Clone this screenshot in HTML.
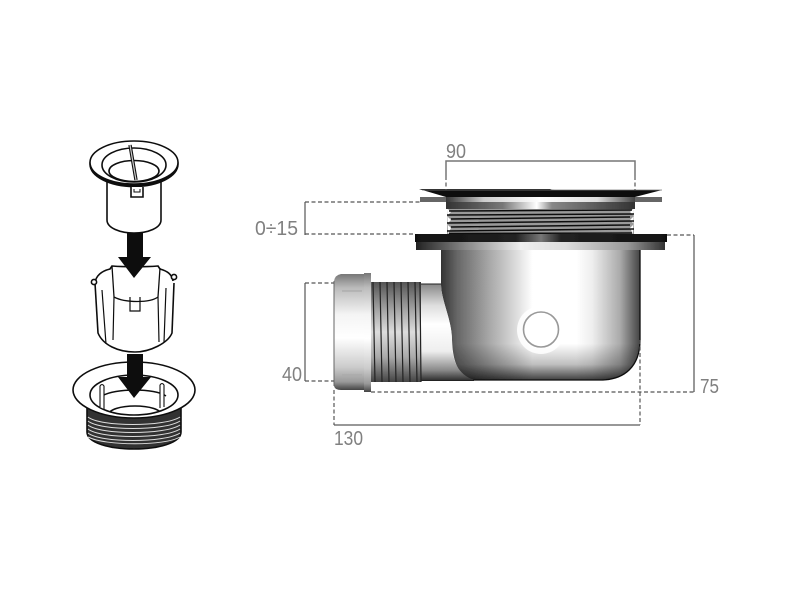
<!DOCTYPE html>
<html><head><meta charset="utf-8"><style>
html,body{margin:0;padding:0;background:#fff}
svg{display:block}
text{font-family:"Liberation Sans",sans-serif;fill:#808080;font-size:20.500px}
</style></head><body>
<svg width="800" height="592" viewBox="0 0 800 592" xmlns="http://www.w3.org/2000/svg">
<defs>
<linearGradient id="body" x1="0" x2="1" y1="0" y2="0">
<stop offset="0" stop-color="#333"/><stop offset=".08" stop-color="#666"/><stop offset=".25" stop-color="#aaa"/><stop offset=".38" stop-color="#ddd"/><stop offset=".46" stop-color="#fff"/><stop offset=".68" stop-color="#fff"/><stop offset=".76" stop-color="#eee"/><stop offset=".9" stop-color="#aaa"/><stop offset="1" stop-color="#444"/>
</linearGradient>
<linearGradient id="bot" x1="0" x2="0" y1="0" y2="1">
<stop offset="0" stop-color="#000" stop-opacity="0"/><stop offset=".72" stop-color="#000" stop-opacity="0"/><stop offset=".88" stop-color="#000" stop-opacity=".25"/><stop offset="1" stop-color="#000" stop-opacity=".75"/>
</linearGradient>
<linearGradient id="pipe" x1="0" x2="0" y1="0" y2="1">
<stop offset="0" stop-color="#888"/><stop offset=".22" stop-color="#ddd"/><stop offset=".42" stop-color="#fff"/><stop offset=".7" stop-color="#eee"/><stop offset=".9" stop-color="#888"/><stop offset="1" stop-color="#333"/>
</linearGradient>
<linearGradient id="nut" x1="0" x2="0" y1="0" y2="1">
<stop offset="0" stop-color="#777"/><stop offset=".12" stop-color="#bbb"/><stop offset=".35" stop-color="#f4f4f4"/><stop offset=".55" stop-color="#fff"/><stop offset=".8" stop-color="#ccc"/><stop offset=".93" stop-color="#999"/><stop offset="1" stop-color="#444"/>
</linearGradient>
<linearGradient id="th" x1="0" x2="0" y1="0" y2="1">
<stop offset="0" stop-color="#555"/><stop offset=".3" stop-color="#aaa"/><stop offset=".5" stop-color="#ddd"/><stop offset=".75" stop-color="#aaa"/><stop offset="1" stop-color="#444"/>
</linearGradient>
<linearGradient id="dark" x1="0" x2="1" y1="0" y2="0">
<stop offset="0" stop-color="#111"/><stop offset=".4" stop-color="#222"/><stop offset=".5" stop-color="#777"/><stop offset=".58" stop-color="#222"/><stop offset="1" stop-color="#111"/>
</linearGradient>
<linearGradient id="fl2" x1="0" x2="1" y1="0" y2="0">
<stop offset="0" stop-color="#222"/><stop offset=".2" stop-color="#888"/><stop offset=".42" stop-color="#eee"/><stop offset=".6" stop-color="#ddd"/><stop offset=".85" stop-color="#999"/><stop offset="1" stop-color="#333"/>
</linearGradient>
<linearGradient id="coll" x1="0" x2="1" y1="0" y2="0">
<stop offset="0" stop-color="#333"/><stop offset=".3" stop-color="#777"/><stop offset=".48" stop-color="#fff"/><stop offset=".56" stop-color="#888"/><stop offset="1" stop-color="#333"/>
</linearGradient>
<linearGradient id="band" x1="0" x2="1" y1="0" y2="0">
<stop offset="0" stop-color="#333"/><stop offset=".2" stop-color="#ccc"/><stop offset=".5" stop-color="#fff"/><stop offset=".8" stop-color="#ddd"/><stop offset="1" stop-color="#444"/>
</linearGradient>
<clipPath id="c1"><ellipse cx="134" cy="165" rx="32" ry="17"/></clipPath>
<clipPath id="c2"><ellipse cx="134" cy="395" rx="44" ry="20"/></clipPath>
<filter id="soft"><feGaussianBlur stdDeviation="0.35"/></filter>
</defs>

<g filter="url(#soft)">
<!-- LEFT: cup -->
<g fill="none" stroke="#111" stroke-width="1.6">
<path d="M95 281C97 273 103 271 110 269L112 266C125 263 147 263 158 266L161 269C167 271 172 274 173 280L172 330C168 343 150 352 135 352C118 352 103 345 98 333Z" fill="#fff" stroke="none"/>
<path d="M95 283C96 275 102 271 110 269L112 266C125 267 145 267 158 266L160 269C167 271 172 274 173 281"/>
<path d="M95 283L98 333C103 345 118 352 135 352C150 352 168 343 172 333L174 283"/>
<path d="M112 266L114 297C125 303 150 303 158 297L160 268" stroke-width="1.3"/>
<path d="M114 297L113 340M158 297L159 342M102 290L106 344M166 288L164 342" stroke-width="1.2"/>
<path d="M130 297V311H140V297" stroke-width="1.2"/>
<circle cx="94" cy="282" r="2.6" fill="#fff"/><circle cx="174" cy="277" r="2.6" fill="#fff"/>
</g>

<!-- LEFT: top part -->
<g fill="none" stroke="#111" stroke-width="1.6">
<path d="M107 178V220C107 228 120 233 134 233C148 233 161 228 161 220V178" fill="#fff"/>
<ellipse cx="134" cy="164" rx="44" ry="22.5" fill="#111"/>
<ellipse cx="134" cy="162.500" rx="44" ry="21.5" fill="#fff"/>
<ellipse cx="134" cy="165" rx="32" ry="17"/>
<g clip-path="url(#c1)"><ellipse cx="134" cy="171" rx="25" ry="10.5"/></g>
<path d="M130 145L136 180" stroke-width="3.4"/>
<path d="M130 145L136 180" stroke="#ccc" stroke-width="1.2"/>
<path d="M131 187V197H143V187" fill="#fff"/>
<path d="M134 189V192H140V189" stroke-width="1"/>
</g>
<path d="M127 233H143V257H151L134 278L118 257H127Z" fill="#0a0a0a"/>

<!-- LEFT: bottom ring -->
<g fill="none" stroke="#111" stroke-width="1.6">
<path d="M87 408V432C87 443 110 449 134 449C158 449 181 443 181 432V408" fill="#333"/>
<g stroke="#ddd" stroke-width="1">
<path d="M88 421C100 431 165 431 180 421M88 425C100 435 165 435 180 425M88 429C100 439 165 439 180 429M88 433C100 443 165 443 180 433M88 437C105 446 165 446 180 437M88 417C100 427 165 427 180 417"/>
</g>
<ellipse cx="134" cy="390" rx="61" ry="28" fill="#fff"/>
<ellipse cx="134" cy="395" rx="44" ry="20"/>
<g clip-path="url(#c2)"><path d="M102 396C115 388 155 388 166 396" stroke-width="1.4"/><ellipse cx="135" cy="414" rx="26" ry="8"/></g>
<path d="M100 407V386Q102 383 104 386V409M160 408V385Q162 382 164 385V407" fill="#fff" stroke-width="1.1"/>
</g>
<path d="M127 354H143V377H151L134 398L118 377H127Z" fill="#0a0a0a"/>

<!-- RIGHT: body -->
<path d="M441 250H640V340C640 366 625 380 600 380H478C462 380 453 368 452 340C452 320 441 300 441 284Z" fill="url(#body)"/>
<path d="M441 250H640V340C640 366 625 380 600 380H478C462 380 453 368 452 340C452 320 441 300 441 284Z" fill="url(#bot)"/>
<path d="M640 250V340C640 366 625 380 600 380H472" fill="none" stroke="#111" stroke-width="1.3"/>
<ellipse cx="541" cy="330" rx="24" ry="24" fill="#fff" opacity=".85"/>
<circle cx="541" cy="329.500" r="17.500" fill="#fff" stroke="#999" stroke-width="1.6"/>

<!-- pipe -->
<path d="M419 284H441C441 300 452 320 452 340C452 362 458 374 474 380H419Z" fill="url(#pipe)"/>
<path d="M419 284H441M419 380.500H474" stroke="#222" stroke-width="1"/>

<!-- thread -->
<rect x="371" y="282" width="50" height="100" fill="url(#th)"/>
<g stroke="#222" stroke-width="1.2" fill="none">
<path d="M373 282L375 382M380 282L382 382M387 282L389 382M394 282L396 382M401 282L403 382M408 282L410 382M415 282L417 382M420 282L421 382"/>
</g>

<!-- nut -->
<path d="M334 281Q335 275 341 274H364V390H341Q335 390 334 386Z" fill="url(#nut)"/>
<rect x="364" y="273" width="7" height="119" fill="url(#nut)"/>
<path d="M342 291H362M342 375H362" stroke="#aaa" stroke-width="1.3" fill="none"/>
<path d="M334 281V386" stroke="#666" stroke-width="1"/>

<!-- flange -->
<rect x="416" y="242" width="249" height="8" fill="url(#fl2)"/>
<rect x="415" y="234" width="252" height="8" fill="url(#dark)"/>
<!-- thread top -->
<rect x="447" y="208" width="187" height="26" fill="#999"/>
<path d="M447 208L451 212L447 216L451 220L447 224L451 228L448 234" fill="#fff"/>
<path d="M634 208L630 212L634 216L630 220L634 224L630 228L633 234" fill="#fff"/>
<g stroke="#111" stroke-width="1.5" fill="none">
<path d="M449 211L632 210M447 215L634 214M451 219L630 217M447 223L634 221M451 227L630 225M447 231L634 229M449 233.500L632 233"/>
</g>
<rect x="446" y="202" width="189" height="7" fill="url(#coll)"/>
<rect x="420" y="197" width="242" height="5" fill="#666"/>
<rect x="446" y="197" width="189" height="5" fill="url(#band)"/>
<path d="M419 189H550Q552 190 555 190H662L635 197H446Z" fill="#111"/>
<path d="M422 190H662" stroke="#777" stroke-width=".7"/>

<!-- dimensions -->
<g fill="none" stroke="#777" stroke-width="1.5">
<path d="M446 176V161H635V176"/>
<path d="M305 202V235"/>
<path d="M305 283V381"/>
<path d="M334 425H640"/>
<path d="M694 235V392"/>
</g>
<g fill="none" stroke="#555" stroke-width="1.2" stroke-dasharray="4 2.500">
<path d="M446 176V190M635 176V190"/>
<path d="M305 202H420M305 234H415"/>
<path d="M305 283H334M305 381H334"/>
<path d="M334 390V425M640 340V425"/>
<path d="M371 392H694"/>
<path d="M667 235H694"/>
</g>
</g>
<text x="446" y="158" textLength="20" lengthAdjust="spacingAndGlyphs">90</text>
<text x="255" y="235" textLength="43" lengthAdjust="spacingAndGlyphs">0÷15</text>
<text x="282" y="381" textLength="20" lengthAdjust="spacingAndGlyphs">40</text>
<text x="334" y="445" textLength="29" lengthAdjust="spacingAndGlyphs">130</text>
<text x="700" y="393" textLength="19" lengthAdjust="spacingAndGlyphs">75</text>
</svg>
</body></html>
